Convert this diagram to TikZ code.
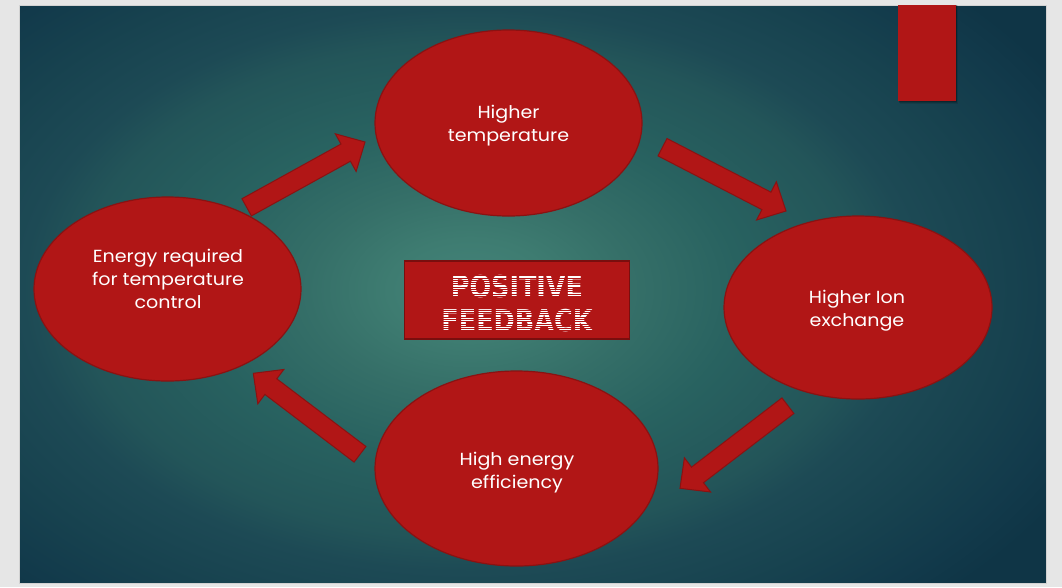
\documentclass[tikz,border=0pt]{standalone}
\usepackage{fontspec}
\setmainfont{Poppins}
\newfontfamily\cellfont{Poppins}[FakeStretch=1.09]
\newfontfamily\headfont{DejaVu Sans}
\usetikzlibrary{calc,shapes.geometric}

\definecolor{pagegray}{HTML}{E6E6E6}
\definecolor{slideedge}{HTML}{D2D2D2}
\definecolor{cellred}{HTML}{B11616}
\definecolor{celledge}{HTML}{8A1212}
\definecolor{titleedge}{HTML}{7A0E0E}
\definecolor{bgA}{HTML}{44837A}
\definecolor{bgB}{HTML}{3E7C71}
\definecolor{bgC}{HTML}{356F68}
\definecolor{bgD}{HTML}{286260}
\definecolor{bgE}{HTML}{235559}
\definecolor{bgF}{HTML}{1D4A55}
\definecolor{bgG}{HTML}{17424F}
\definecolor{bgH}{HTML}{123A4B}
\definecolor{bgI}{HTML}{0F3546}

% teal backdrop: bright in the middle, dark towards the edges
\pgfdeclareradialshading{backdrop}{\pgfpoint{0bp}{0bp}}{%
  color(0bp)=(bgA); color(6bp)=(bgB); color(12bp)=(bgC); color(20bp)=(bgD);
  color(29bp)=(bgE); color(33bp)=(bgF); color(40bp)=(bgG); color(46bp)=(bgH);
  color(50bp)=(bgI)}

\tikzset{
  cell/.style={ellipse, draw=celledge, line width=1.2pt, fill=cellred, inner sep=0pt},
  lbl/.style={text=white, align=center, inner sep=0pt,
              font=\cellfont\fontsize{17.5}{23}\selectfont},
  barrow/.style={fill=cellred, draw=celledge, line width=1pt, line join=miter},
}

% block arrow from a tail point to a tip point
\newcommand\blockarrow[3]{%
  \coordinate (#3) at ($(#2)!22pt!(#1)$);
  \draw[barrow] ($(#1)!9.8pt!90:(#2)$) -- ($(#3)!9.8pt!90:(#2)$)
    -- ($(#3)!21.5pt!90:(#2)$) -- (#2) -- ($(#3)!21.5pt!-90:(#2)$)
    -- ($(#3)!9.8pt!-90:(#2)$) -- ($(#1)!9.8pt!-90:(#2)$) -- cycle;
}

\begin{document}
\begin{tikzpicture}[x=1pt, y=-1pt]
  % page and slide
  \useasboundingbox (0,0) rectangle (1062,587);
  \fill[pagegray] (0,0) rectangle (1062,587);
  \begin{scope}
    \clip (19,5) rectangle (1046,583);
    \fill[bgI] (19,5) rectangle (1046,583);
    \begin{scope}[shift={(470,290)}, xscale=13.5, yscale=8.5]
      \node[transform shape, inner sep=0pt] (backdrop) at (0,0) {\pgfuseshading{backdrop}};
    \end{scope}
  \end{scope}
  \draw[slideedge, line width=0.8pt] (19,5) rectangle (1046,583);

  % corner tab with a soft shadow
  \foreach \d/\o in {3/0.10, 2/0.15, 1/0.2}
    \fill[black, opacity=\o] (898+\d*0.5,5) rectangle (956+\d*0.5,100.7+\d);
  \fill[cellred] (898,5) rectangle (956,100.7);

  % the four stages of the loop
  \node[cell, minimum width=267pt, minimum height=186pt] (temp) at (508.5,123) {};
  \node[cell, minimum width=268pt, minimum height=183pt] (ion) at (858,307.5) {};
  \node[cell, minimum width=283pt, minimum height=195pt] (eff) at (516.5,468.5) {};
  \node[cell, minimum width=267pt, minimum height=184pt] (energy) at (167.5,289) {};

  \node[lbl] (tempT) at (508.5,125.5) {Higher\\temperature};
  \node[lbl] (ionT) at (857,310.5) {Higher Ion\\exchange};
  \node[lbl] (effT) at (517,473) {High energy\\efficiency};
  \node[lbl] (energyT) at (168,279) {Energy required\\for temperature\\control};

  % arrows between the stages
  \coordinate (a1t) at (246.7,207.3); \coordinate (a1p) at (365,142);
  \coordinate (a2t) at (662.5,147.2); \coordinate (a2p) at (786,211);
  \coordinate (a3t) at (787.9,405.7); \coordinate (a3p) at (680,488.3);
  \coordinate (a4t) at (360,454.3);   \coordinate (a4p) at (253.3,373.3);
  \blockarrow{a1t}{a1p}{a1h}
  \blockarrow{a2t}{a2p}{a2h}
  \blockarrow{a3t}{a3p}{a3h}
  \blockarrow{a4t}{a4p}{a4h}

  % title box
  \node[draw=titleedge, fill=cellred, line width=1.6pt, minimum width=225pt,
        minimum height=78pt, inner sep=0pt] (title) at (517,300) {};
  \node[text=white, align=center, inner sep=0pt,
        font=\headfont\bfseries\fontsize{30}{34}\selectfont] (titleT) at (517,304)
        {\scalebox{0.85}[1]{POSITIVE}\\\scalebox{0.85}[1]{FEEDBACK}};
  % scan-line stripes across the lettering
  \begin{scope}
    \clip (406,263) rectangle (628,337);
    \foreach \k in {0,...,32}
      \draw[cellred, line width=0.6pt] (406,264+\k*2.3) -- (628,264+\k*2.3);
  \end{scope}
\end{tikzpicture}
\end{document}
